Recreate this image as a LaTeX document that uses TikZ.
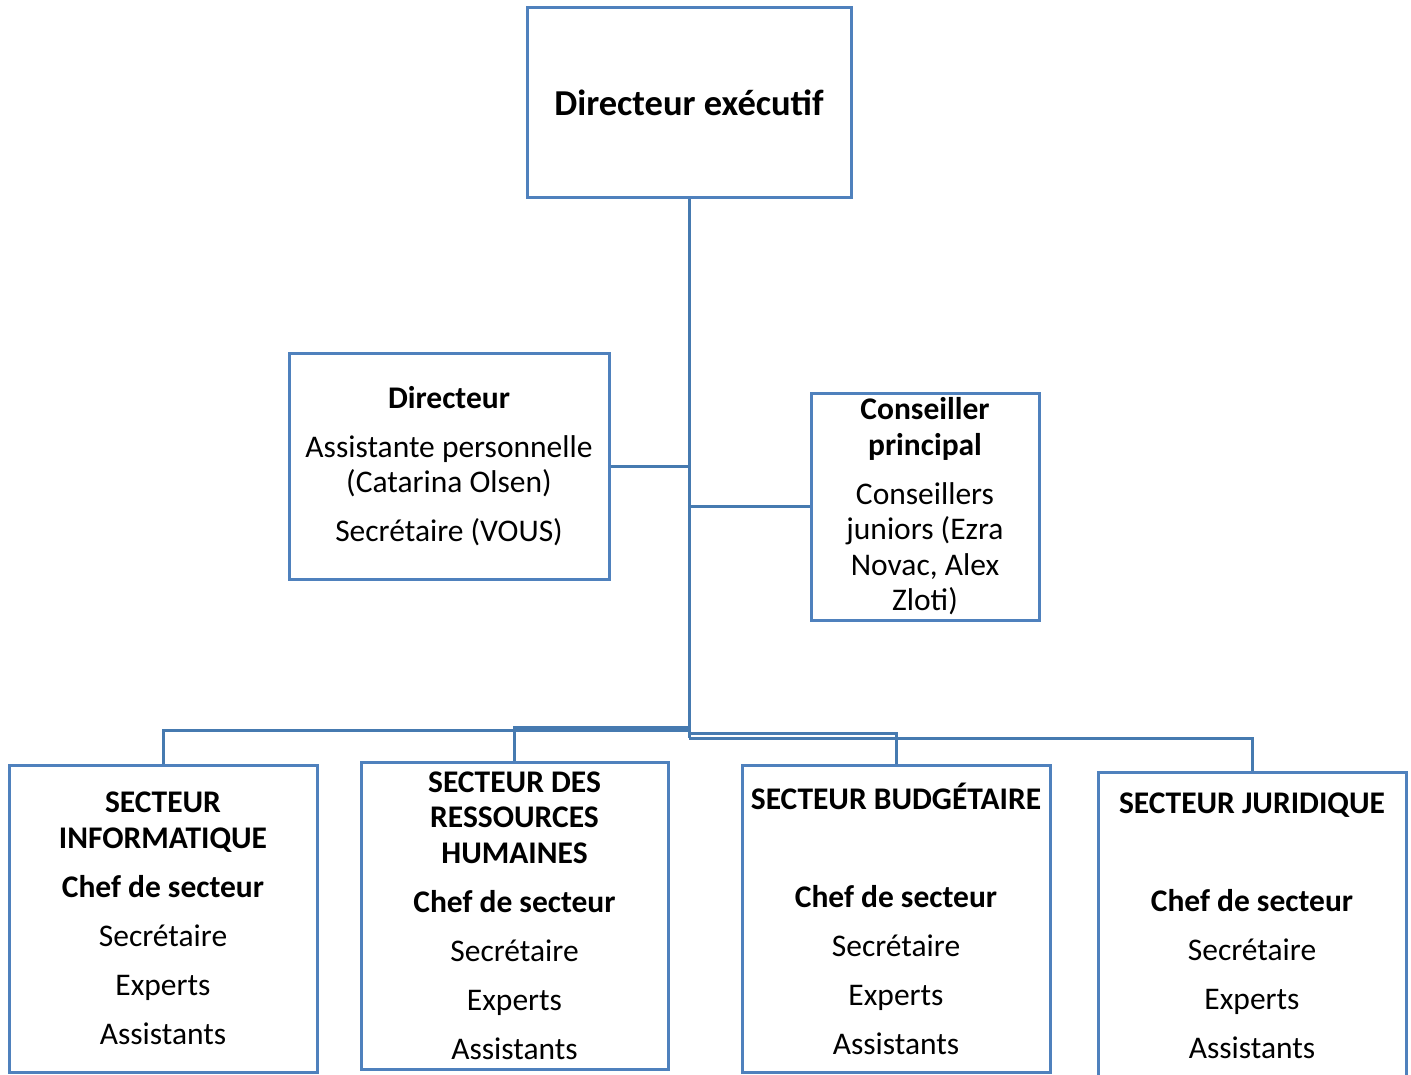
\documentclass[tikz,border=0pt]{standalone}
\usepackage{fontspec}
\setmainfont{Carlito}
\definecolor{boxblue}{RGB}{79,129,189}
\definecolor{lineblue}{RGB}{70,122,176}
\tikzset{
  orgbox/.style={draw=boxblue, line width=3pt, inner sep=0pt, align=center,
    font=\fontsize{31.5}{35.5}\selectfont},
  link/.style={draw=lineblue, line width=3pt}
}
\begin{document}
\begin{tikzpicture}[x=1pt, y=-1pt]
  \useasboundingbox (0,0) rectangle (1411,1075);

  \node[orgbox, minimum width=324, minimum height=190, font=\fontsize{36.5}{40}\selectfont\bfseries]
    (dirx) at (689,103) {Directeur exécutif};

  \node[orgbox, minimum width=320, minimum height=226] (dir) at (449,466)
    {\textbf{Directeur}\\[13.5pt] Assistante personnelle\\ (Catarina Olsen)\\[13.5pt] Secrétaire (VOUS)};
  \node[orgbox, minimum width=228, minimum height=227] (cons) at (925,506.5)
    {\textbf{Conseiller}\\ \textbf{principal}\\[13.5pt] Conseillers\\ juniors (Ezra\\ Novac, Alex\\ Zloti)};

  \node[orgbox, minimum width=308, minimum height=307] (info) at (163,918.5)
    {\textbf{SECTEUR}\\ \textbf{INFORMATIQUE}\\[13.5pt] \textbf{Chef de secteur}\\[13.5pt] Secrétaire\\[13.5pt] Experts\\[13.5pt] Assistants};
  \node[orgbox, minimum width=307, minimum height=307] (rh) at (514.5,915.5)
    {\textbf{SECTEUR DES}\\ \textbf{RESSOURCES}\\ \textbf{HUMAINES}\\[13.5pt] \textbf{Chef de secteur}\\[13.5pt] Secrétaire\\[13.5pt] Experts\\[13.5pt] Assistants};
  \node[orgbox, minimum width=308, minimum height=307] (budget) at (896,919)
    {\textbf{SECTEUR BUDGÉTAIRE}\\[62.5pt] \textbf{Chef de secteur}\\[13.5pt] Secrétaire\\[13.5pt] Experts\\[13.5pt] Assistants};
  \node[orgbox, minimum width=308, minimum height=307] (jur) at (1252,925.5)
    {\textbf{SECTEUR JURIDIQUE}\\[62.5pt] \textbf{Chef de secteur}\\[13.5pt] Secrétaire\\[13.5pt] Experts\\[13.5pt] Assistants};

  % trunk and branches
  \coordinate (trunk) at (689,738);
  \coordinate (jinfo) at (689,730);
  \coordinate (jrh) at (689,727);
  \coordinate (jbud) at (689,733);
  \coordinate (jjur) at (689,738);

  \draw[link] (dirx.south) -- (trunk);
  \draw[link] (dir.east) -- (dir.east -| dirx.south);
  \draw[link] (cons.west) -- (cons.west -| dirx.south);
  \draw[link] (jinfo) -| (info.north);
  \draw[link] (jrh) -| (rh.north);
  \draw[link] (jbud) -| (budget.north);
  \draw[link] (jjur) -| (jur.north);
\end{tikzpicture}
\end{document}
